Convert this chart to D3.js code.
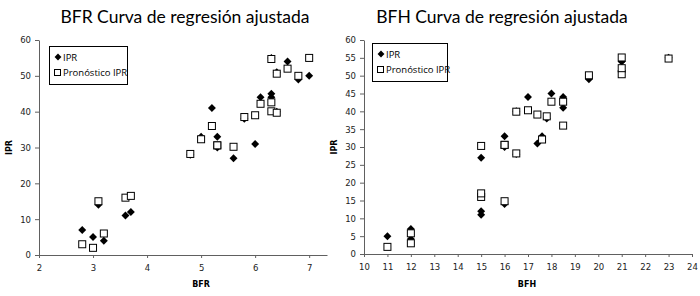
<!DOCTYPE html>
<html>
<head>
<meta charset="utf-8">
<script src="https://cdn.jsdelivr.net/npm/d3@7"></script>
<style>
  body { margin: 0; background: #fff; }
  svg { display: block; }
</style>
</head>
<body>
<div id="chart"></div>
<script>
// BFR chart data
const bfrX    = [2.8, 3.0, 3.1, 3.2, 3.6, 3.7, 4.8, 5.0, 5.2, 5.3, 5.3, 5.6, 5.8, 6.0, 6.1, 6.3, 6.3, 6.3, 6.4, 6.4, 6.6, 6.8, 7.0];
const bfrIPR  = [7, 5, 14, 4, 11, 12, 28, 33, 41, 33, 30, 27, 38, 31, 44, 45, 44, 55, 51, 40, 54, 49, 50];
const bfrPred = [3, 2, 15, 6, 16, 16.5, 28.2, 32.3, 36, 30.6, 30.6, 30.2, 38.5, 39, 42.2, 42.6, 40.1, 54.7, 50.6, 39.7, 52, 50, 55];

// BFH chart data
const bfhX    = [11, 12, 12, 15, 15, 15, 16, 16, 16, 16.5, 16.5, 17, 17.4, 17.6, 17.8, 18, 18.5, 18.5, 19.6, 21, 21, 21, 23];
const bfhIPR  = [5, 7, 4.2, 27, 11, 12, 14, 33, 30, 28, 40, 44, 31, 33, 38, 45, 44, 41, 49, 54, 51, 54, 55];
const bfhPred = [2, 3, 5.8, 30.3, 16, 17, 14.8, 30.6, 30.6, 28.2, 39.9, 40.3, 39.1, 32.1, 38.6, 42.7, 42.7, 36, 50.1, 55.1, 50.4, 52.1, 54.8];

const bfrXTicks = [2, 3, 4, 5, 6, 7];
const bfrYTicks = [0, 10, 20, 30, 40, 50, 60];
const bfhXTicks = d3.range(10, 25, 1);
const bfhYTicks = d3.range(0, 65, 5);

const svg = d3.select("#chart").append("svg")
  .attr("width", 700).attr("height", 296);

svg.append("rect").attr("width", 700).attr("height", 296).attr("fill", "#fff");

const drawPanel = (opt) => {
  const g = svg.append("g");

  const x = d3.scaleLinear().domain(opt.xDomain).range([opt.left, opt.right]);
  const y = d3.scaleLinear().domain([0, 60]).range([opt.bottom, opt.top]);

  // title
  g.append("text")
    .attr("x", opt.titleX).attr("y", 23)
    .attr("text-anchor", "middle")
    .attr("font-family", "Lato, sans-serif")
    .attr("font-size", 17.5)
    .attr("fill", "#000")
    .text(opt.title);

  // axes
  const xAxis = d3.axisBottom(x).tickValues(opt.xTicks).tickFormat(d3.format("d")).tickSize(3).tickSizeOuter(0);
  const yAxis = d3.axisLeft(y).tickValues(opt.yTicks).tickFormat(d3.format("d")).tickSize(4).tickSizeOuter(0);

  const gx = g.append("g").attr("transform", `translate(0,${opt.bottom})`).call(xAxis);
  const gy = g.append("g").attr("transform", `translate(${opt.left},0)`).call(yAxis);

  [gx, gy].forEach(a => {
    a.select(".domain").attr("stroke", "#606060");
    a.selectAll(".tick line").attr("stroke", "#606060");
    a.selectAll(".tick text")
      .attr("font-family", "DejaVu Sans, Verdana, sans-serif")
      .attr("font-size", 8.5)
      .attr("fill", "#222");
  });
  gx.selectAll(".tick text").attr("y", 10);
  gy.selectAll(".tick text").attr("x", -8).attr("dy", "0.35em");

  // axis titles
  g.append("text")
    .attr("x", opt.xLabelX).attr("y", 287)
    .attr("text-anchor", "middle")
    .attr("font-family", "DejaVu Sans, Verdana, sans-serif")
    .attr("font-size", 8).attr("font-weight", "bold")
    .text(opt.xLabel);

  g.append("text")
    .attr("transform", `translate(${opt.left - 27},${(opt.top + opt.bottom) / 2}) rotate(-90)`)
    .attr("text-anchor", "middle")
    .attr("font-family", "DejaVu Sans, Verdana, sans-serif")
    .attr("font-size", 8).attr("font-weight", "bold")
    .text("IPR");

  const diamond = d3.symbol().type(d3.symbolDiamond2).size(40);

  // IPR diamonds
  g.selectAll(".ipr")
    .data(opt.xs.map((v, i) => ({ x: v, y: opt.ipr[i] })))
    .join("path")
      .attr("d", diamond)
      .attr("transform", d => `translate(${x(d.x)},${y(d.y)})`)
      .attr("fill", "#000");

  // predicted squares
  g.selectAll(".pred")
    .data(opt.xs.map((v, i) => ({ x: v, y: opt.pred[i] })))
    .join("rect")
      .attr("x", d => x(d.x) - 3.5)
      .attr("y", d => y(d.y) - 3.5)
      .attr("width", 7).attr("height", 7)
      .attr("fill", "#fff")
      .attr("stroke", "#000")
      .attr("stroke-width", 1);

  // legend
  const lg = g.append("g").attr("transform", `translate(${opt.legend[0]},${opt.legend[1]})`);
  lg.append("rect")
    .attr("x", 0.5).attr("y", 0.5)
    .attr("width", opt.legend[2]).attr("height", 38)
    .attr("fill", "#fff").attr("stroke", "#000");
  lg.append("path").attr("d", d3.symbol().type(d3.symbolDiamond2).size(30))
    .attr("transform", "translate(9,11)").attr("fill", "#000");
  lg.append("rect").attr("x", 5.5).attr("y", 23.5).attr("width", 6).attr("height", 6)
    .attr("fill", "#fff").attr("stroke", "#000");
  lg.append("text").attr("x", 14).attr("y", 14.5)
    .attr("font-family", "Open Sans, sans-serif").attr("font-size", 9.5)
    .text("IPR");
  lg.append("text").attr("x", 14).attr("y", 30)
    .attr("font-family", "Open Sans, sans-serif").attr("font-size", 9.5)
    .text("Pronóstico IPR");
};

drawPanel({
  title: "BFR Curva de regresión ajustada", titleX: 185,
  xDomain: [2, 7.33], left: 39, right: 327, top: 40, bottom: 255,
  xTicks: bfrXTicks, yTicks: bfrYTicks,
  xs: bfrX, ipr: bfrIPR, pred: bfrPred,
  xLabel: "BFR", xLabelX: 201,
  legend: [49, 46, 78]
});

drawPanel({
  title: "BFH Curva de regresión ajustada", titleX: 502,
  xDomain: [10, 24], left: 364, right: 692, top: 40, bottom: 254,
  xTicks: bfhXTicks, yTicks: bfhYTicks,
  xs: bfhX, ipr: bfhIPR, pred: bfhPred,
  xLabel: "BFH", xLabelX: 527,
  legend: [372, 43, 75]
});
</script>
</body>
</html>
